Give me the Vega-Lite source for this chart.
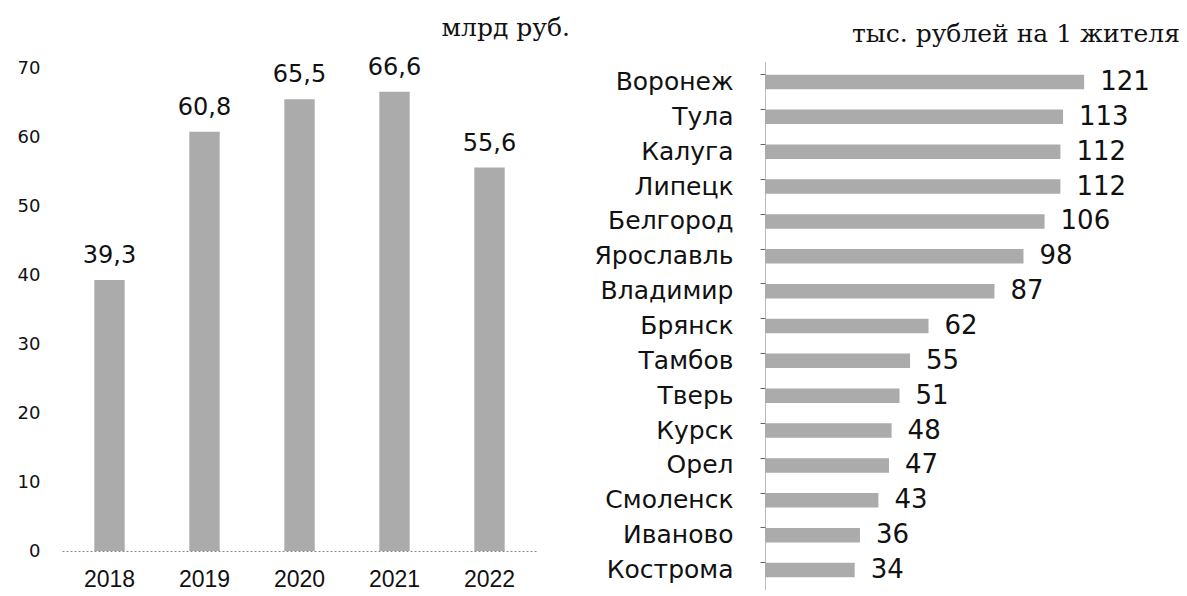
{
  "$schema": "https://vega.github.io/schema/vega-lite/v6.json",
  "padding": {"left": 17, "top": 15, "right": 0, "bottom": 0},
  "background": "white",
  "bounds": "flush",
  "spacing": 228,
  "config": {
    "view": {"stroke": null},
    "font": "DejaVu Sans",
    "locale": {"number": {"decimal": ",", "thousands": "\u00a0", "grouping": [3], "currency": ["", ""]}}
  },
  "hconcat": [
    {
      "width": 475,
      "height": 489,
      "title": {"text": "млрд руб.", "anchor": "end", "frame": "group", "dx": 33, "offset": 15, "font": "DejaVu Serif", "fontSize": 25, "fontWeight": "normal", "color": "#111"},
      "data": {"values": [
        {"year": "2018", "value": 39.3},
        {"year": "2019", "value": 60.8},
        {"year": "2020", "value": 65.5},
        {"year": "2021", "value": 66.6},
        {"year": "2022", "value": 55.6}
      ]},
      "encoding": {
        "x": {"field": "year", "type": "ordinal", "scale": {"paddingInner": 0.68, "paddingOuter": 0.34},
          "axis": {"title": null, "labelAngle": 0, "ticks": false, "domainColor": "#888", "domainDash": [2, 2], "labelFont": "Liberation Sans", "labelFontSize": 23, "labelColor": "#111", "labelPadding": 17}},
        "y": {"field": "value", "type": "quantitative", "scale": {"domain": [0, 70.9], "nice": false},
          "axis": {"title": null, "values": [0, 10, 20, 30, 40, 50, 60, 70], "domain": false, "ticks": false, "grid": false, "labelFontSize": 18, "labelColor": "#111", "labelPadding": 22}}
      },
      "layer": [
        {"mark": {"type": "bar", "color": "#ababab"}},
        {"mark": {"type": "text", "baseline": "alphabetic", "dy": -17, "fontSize": 24, "color": "#111"},
          "encoding": {"text": {"field": "value", "type": "quantitative", "format": ".1f"}}}
      ]
    },
    {
      "width": 422,
      "height": 528,
      "title": {"text": "тыс. рублей на 1 жителя", "anchor": "end", "frame": "group", "dx": -7, "offset": 15, "font": "DejaVu Serif", "fontSize": 25, "fontWeight": "normal", "color": "#111"},
      "data": {"values": [
        {"city": "Воронеж", "value": 121},
        {"city": "Тула", "value": 113},
        {"city": "Калуга", "value": 112},
        {"city": "Липецк", "value": 112},
        {"city": "Белгород", "value": 106},
        {"city": "Ярославль", "value": 98},
        {"city": "Владимир", "value": 87},
        {"city": "Брянск", "value": 62},
        {"city": "Тамбов", "value": 55},
        {"city": "Тверь", "value": 51},
        {"city": "Курск", "value": 48},
        {"city": "Орел", "value": 47},
        {"city": "Смоленск", "value": 43},
        {"city": "Иваново", "value": 36},
        {"city": "Кострома", "value": 34}
      ]},
      "encoding": {
        "y": {"field": "city", "type": "nominal", "sort": null, "scale": {"paddingInner": 0.584, "paddingOuter": 0.366},
          "axis": {"title": null, "domainColor": "#777", "domainDash": [1, 1], "tickSize": 5, "tickColor": "#666", "bandPosition": 0, "labelFontSize": 25, "labelColor": "#111", "labelPadding": 27}},
        "x": {"field": "value", "type": "quantitative", "scale": {"domain": [0, 160], "nice": false}, "axis": null}
      },
      "layer": [
        {"mark": {"type": "bar", "color": "#ababab"}},
        {"mark": {"type": "text", "align": "left", "baseline": "middle", "dx": 16, "fontSize": 26, "color": "#111"},
          "encoding": {"text": {"field": "value", "type": "quantitative"}}}
      ]
    }
  ]
}
